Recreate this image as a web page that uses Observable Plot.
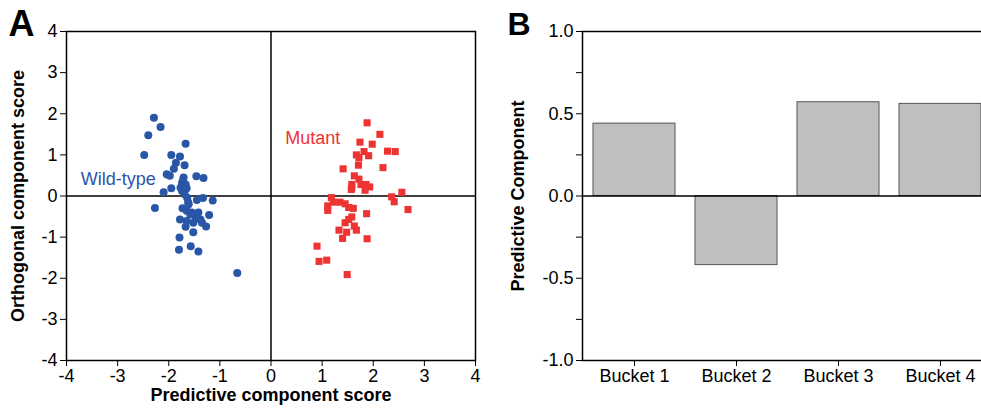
<!DOCTYPE html>
<html>
<head>
<meta charset="utf-8">
<script src="https://cdn.jsdelivr.net/npm/d3@7"></script>
<script src="https://cdn.jsdelivr.net/npm/@observablehq/plot@0.6"></script>
<style>
  html, body { margin: 0; padding: 0; background: #fff; }
  #fig { position: relative; width: 981px; height: 411px; overflow: hidden; background: #fff; }
  #fig svg { position: absolute; top: 0; max-width: none; }
</style>
</head>
<body>
<div id="fig"></div>
<script>
// ---- Panel A data ----
const wtX = [-2.29,-2.16,-2.40,-1.67,-2.48,-1.95,-1.78,-1.86,-1.69,-1.90,-2.04,-1.98,-1.46,-1.32,-1.71,-1.74,-1.67,-1.77,-1.95,-1.65,-2.10,-1.74,-1.69,-1.64,-1.45,-1.33,-1.14,-2.27,-1.61,-1.73,-1.65,-1.58,-1.48,-1.21,-1.78,-1.65,-1.52,-1.38,-1.35,-1.67,-1.27,-1.52,-1.79,-1.57,-1.80,-1.42,-0.66,-1.72,-1.70,-1.62,-1.55,-1.45,-1.42];
const wtY = [1.90,1.68,1.48,1.27,1.00,1.00,0.96,0.81,0.75,0.66,0.53,0.49,0.48,0.44,0.45,0.32,0.28,0.20,0.19,0.19,0.09,0.12,0.04,-0.04,-0.10,-0.05,-0.11,-0.29,-0.20,-0.30,-0.36,-0.45,-0.49,-0.46,-0.57,-0.61,-0.65,-0.57,-0.65,-0.75,-0.74,-0.88,-1.01,-1.22,-1.31,-1.35,-1.87,0.38,0.10,-0.15,-0.40,-0.55,-0.40];
const mutX = [1.88,2.13,1.74,1.98,2.28,2.43,1.82,1.67,1.91,1.72,1.71,2.19,1.41,1.63,1.72,1.58,1.76,1.86,1.93,1.57,1.84,2.56,2.36,2.41,2.68,1.18,1.22,1.35,1.45,1.11,1.52,1.61,1.11,1.87,1.58,1.52,1.45,1.63,1.67,1.33,1.48,1.40,1.88,0.90,0.94,1.09,1.49,1.58];
const mutY = [1.78,1.50,1.31,1.26,1.09,1.08,1.08,1.00,0.98,0.93,0.75,0.69,0.66,0.49,0.41,0.28,0.28,0.28,0.22,0.16,0.14,0.09,-0.02,-0.14,-0.33,-0.04,-0.15,-0.15,-0.19,-0.24,-0.28,-0.30,-0.35,-0.43,-0.51,-0.57,-0.65,-0.73,-0.83,-0.83,-0.88,-1.03,-1.04,-1.22,-1.59,-1.56,-1.91,0.20];
const axisTicksA = [-4,-3,-2,-1,0,1,2,3,4];
const groupLabels = ["Wild-type", "Mutant"];
const groupLabelX = [-3.72, 0.28];
const groupLabelY = [0.41, 1.40];

// ---- Panel B data ----
const buckets = ["Bucket 1", "Bucket 2", "Bucket 3", "Bucket 4"];
const bucketValues = [0.44, -0.42, 0.57, 0.56];
const majorTicksB = [-1, -0.5, 0, 0.5, 1];
const minorTicksB = [-0.75, -0.25, 0.25, 0.75];

const BLUE = "#2a56a8";
const RED = "#ee3432";
const FONT = "'Liberation Sans', Arial, Helvetica, sans-serif";

const wt = wtX.map((x, i) => ({x, y: wtY[i]}));
const mut = mutX.map((x, i) => ({x, y: mutY[i]}));
const labels = groupLabels.map((t, i) => ({t, x: groupLabelX[i], y: groupLabelY[i], c: i === 0 ? BLUE : RED}));
const bars = buckets.map((b, i) => ({b, v: bucketValues[i]}));

const style = {fontSize: "18px", fontFamily: FONT, color: "#000", background: "transparent", overflow: "visible"};

const plotA = Plot.plot({
  width: 490, height: 411,
  marginLeft: 66, marginRight: 15, marginTop: 31, marginBottom: 51,
  style,
  x: {domain: [-4, 4]},
  y: {domain: [-4, 4]},
  marks: [
    Plot.axisX({ticks: axisTicksA, tickFormat: d => String(d), tickSize: 6, tickPadding: 3, label: null, fontSize: 18}),
    Plot.axisY({ticks: axisTicksA, tickFormat: d => String(d), tickSize: 6, tickPadding: 3, label: null, fontSize: 18}),
    Plot.frame({stroke: "#000", strokeWidth: 1.5}),
    Plot.ruleX([0], {stroke: "#000", strokeWidth: 1.5}),
    Plot.ruleY([0], {stroke: "#000", strokeWidth: 1.5}),
    Plot.dot(wt, {x: "x", y: "y", r: 4, fill: BLUE, stroke: null}),
    Plot.dot(mut, {x: "x", y: "y", r: 4, symbol: "square", fill: RED, stroke: null}),
    Plot.text(labels, {x: "x", y: "y", text: "t", fill: "c", textAnchor: "start", fontSize: 18}),
    Plot.text(["Predictive component score"], {frameAnchor: "bottom", dy: 40, fontWeight: "bold", fontSize: 18}),
    Plot.text(["Orthogonal component score"], {frameAnchor: "left", textAnchor: "middle", lineAnchor: "middle", dx: -48, rotate: -90, fontWeight: "bold", fontSize: 18}),
    Plot.text(["A"], {frameAnchor: "top-left", dx: -58, dy: -21, fontWeight: "bold", fontSize: 36})
  ]
});
plotA.style.left = "0px";

const plotB = Plot.plot({
  width: 502, height: 411,
  marginLeft: 92, marginRight: 0, marginTop: 31, marginBottom: 51,
  style,
  x: {domain: buckets, paddingInner: 0.2, paddingOuter: 0.1},
  y: {domain: [-1, 1]},
  marks: [
    Plot.barY(bars, {x: "b", y: "v", fill: "#bfbfbf", stroke: "#555", strokeWidth: 1}),
    Plot.ruleY([0], {stroke: "#000", strokeWidth: 1.5}),
    Plot.axisX({tickSize: 6, tickPadding: 3, label: null, fontSize: 18}),
    Plot.axisY({ticks: majorTicksB, tickFormat: d => d.toFixed(1), tickSize: 6, tickPadding: 3, label: null, fontSize: 18}),
    Plot.axisY({ticks: minorTicksB, tickFormat: null, text: null, tickSize: 6, label: null}),
    Plot.frame({stroke: "#000", strokeWidth: 1.5}),
    Plot.text(["Predictive Component"], {frameAnchor: "left", textAnchor: "middle", lineAnchor: "middle", dx: -64, rotate: -90, fontWeight: "bold", fontSize: 18}),
    Plot.text(["B"], {frameAnchor: "top-left", dx: -75, dy: -19, fontWeight: "bold", fontSize: 32})
  ]
});
plotB.style.left = "490px";

const fig = document.getElementById("fig");
fig.appendChild(plotA);
fig.appendChild(plotB);
</script>
</body>
</html>
